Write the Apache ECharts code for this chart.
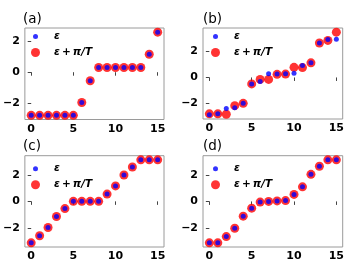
<!DOCTYPE html>
<html><head><meta charset="utf-8">
<script src="https://cdn.jsdelivr.net/npm/echarts@6/dist/echarts.min.js"></script>
<style>html,body{margin:0;padding:0;background:#fff}#c{width:347px;height:263px}</style>
</head><body><div id="c"></div>
<script>
// ---- data ----
const xIndex = [0,1,2,3,4,5,6,7,8,9,10,11,12,13,14,15];
const xTicks = [0,5,10,15];
const yTicks = [-2,0,2];
const panelLabels = ['(a)','(b)','(c)','(d)'];
const seriesNames = ['ε','ε\u2009+\u2009π/T'];

const aEps   = [-2.78,-2.78,-2.78,-2.78,-2.78,-2.78,-1.95,-0.55,0.30,0.30,0.30,0.30,0.30,0.30,1.16,2.58];
const aShift = [-2.78,-2.78,-2.78,-2.78,-2.78,-2.78,-1.95,-0.55,0.30,0.30,0.30,0.30,0.30,0.30,1.16,2.58];

const bEps   = [-2.89,-2.81,-2.40,-2.35,-2.00,-0.50,-0.32,0.29,0.26,0.29,0.32,0.93,1.13,2.66,2.94,2.96];
const bShift = [-2.81,-2.81,-2.84,-2.18,-2.00,-0.50,-0.15,-0.15,0.24,0.26,0.78,0.76,1.13,2.66,2.86,3.50];

const cEps   = [-3.14,-2.60,-1.98,-1.15,-0.55,0.0,0.0,0.0,0.0,0.55,1.17,1.99,2.60,3.14,3.14,3.14];
const cShift = [-3.14,-2.60,-1.98,-1.15,-0.55,0.0,0.0,0.0,0.0,0.55,1.17,1.99,2.60,3.14,3.14,3.14];

const dEps   = [-3.12,-3.12,-2.65,-2.02,-1.11,-0.51,-0.05,0.0,0.04,0.06,0.53,1.10,2.04,2.65,3.13,3.13];
const dShift = [-3.12,-3.12,-2.65,-2.02,-1.11,-0.51,-0.05,0.0,0.04,0.06,0.53,1.10,2.04,2.65,3.13,3.13];

const panelEps = [aEps,bEps,cEps,dEps];
const panelShift = [aShift,bShift,cShift,dShift];

// ---- layout ----
const boxes = [
  {left:23, top:28, width:141, height:91.5},
  {left:203, top:28, width:140, height:91},
  {left:23, top:155.7, width:141, height:91.3},
  {left:203, top:155.7, width:140, height:91.3}
];
const FONT = 'DejaVu Sans';
const fmt = v => v < 0 ? '\u2212' + Math.abs(v) : String(v);
const legText = {fontFamily:FONT, fontWeight:'bold', fontStyle:'italic', fontSize:10.5, color:'#000'};

const grid = [], xAxis = [], yAxis = [], series = [], title = [], legend = [];
boxes.forEach((b, i) => {
  grid.push({left:b.left, top:b.top, width:b.width, height:b.height, show:true,
    borderColor:'#9a9a9a', borderWidth:1, backgroundColor:'transparent'});
  const all = panelEps[i].concat(panelShift[i]);
  const lo = Math.min(...all), hi = Math.max(...all), m = (hi - lo) * 0.05;
  const xlo = Math.min(...xIndex), xhi = Math.max(...xIndex), xm = (xhi - xlo) * 0.05;
  xAxis.push({type:'value', gridIndex:i, min:xlo - xm, max:xhi + xm,
    axisLine:{show:false}, splitLine:{show:false},
    axisTick:{show:true, length:3.5, customValues:xTicks, lineStyle:{color:'#444'}},
    axisLabel:{customValues:xTicks, margin:4, color:'#000', fontFamily:FONT, fontWeight:'bold', fontSize:11, formatter:fmt}});
  yAxis.push({type:'value', gridIndex:i, min:lo - m, max:hi + m,
    axisLine:{show:false}, splitLine:{show:false},
    axisTick:{show:true, length:3.5, customValues:yTicks, lineStyle:{color:'#444'}},
    axisLabel:{customValues:yTicks, margin:5, color:'#000', fontFamily:FONT, fontWeight:'bold', fontSize:11, formatter:fmt}});
  series.push({type:'scatter', name:seriesNames[1], xAxisIndex:i, yAxisIndex:i, symbol:'circle', symbolSize:9,
    itemStyle:{color:'#ff0000'}, data:xIndex.map((x,k)=>[x, panelShift[i][k]]), z:2});
  series.push({type:'scatter', name:seriesNames[0], xAxisIndex:i, yAxisIndex:i, symbol:'circle', symbolSize:5,
    itemStyle:{color:'#0000ff'}, data:xIndex.map((x,k)=>[x, panelEps[i][k]]), z:3});
  title.push({text:panelLabels[i], left:b.left, top:b.top - 16, padding:0,
    textStyle:{fontFamily:FONT, fontWeight:'normal', fontSize:13.5, color:'#000'}});
  const offY = (i >= 2) ? 6 : 1.5;
  legend.push({data:[seriesNames[0]], left:b.left + 10, top:b.top + 8.5 + offY - 7, padding:0,
    icon:'circle', itemWidth:5, itemHeight:5, selectedMode:false,
    formatter: n => '{s|}{t|' + n + '}',
    textStyle:Object.assign({}, legText, {rich:{s:{width:11}, t:legText}})});
  legend.push({data:[seriesNames[1]], left:b.left + 8, top:b.top + 24.5 + offY - 7, padding:0,
    icon:'circle', itemWidth:9, itemHeight:9, selectedMode:false,
    formatter: n => '{s|}{t|' + n + '}',
    textStyle:Object.assign({}, legText, {rich:{s:{width:9}, t:legText}})});
});

const chart = echarts.init(document.getElementById('c'), null, {renderer:'canvas'});
chart.setOption({animation:false, backgroundColor:'#fff', title, legend, grid, xAxis, yAxis, series});
</script></body></html>
